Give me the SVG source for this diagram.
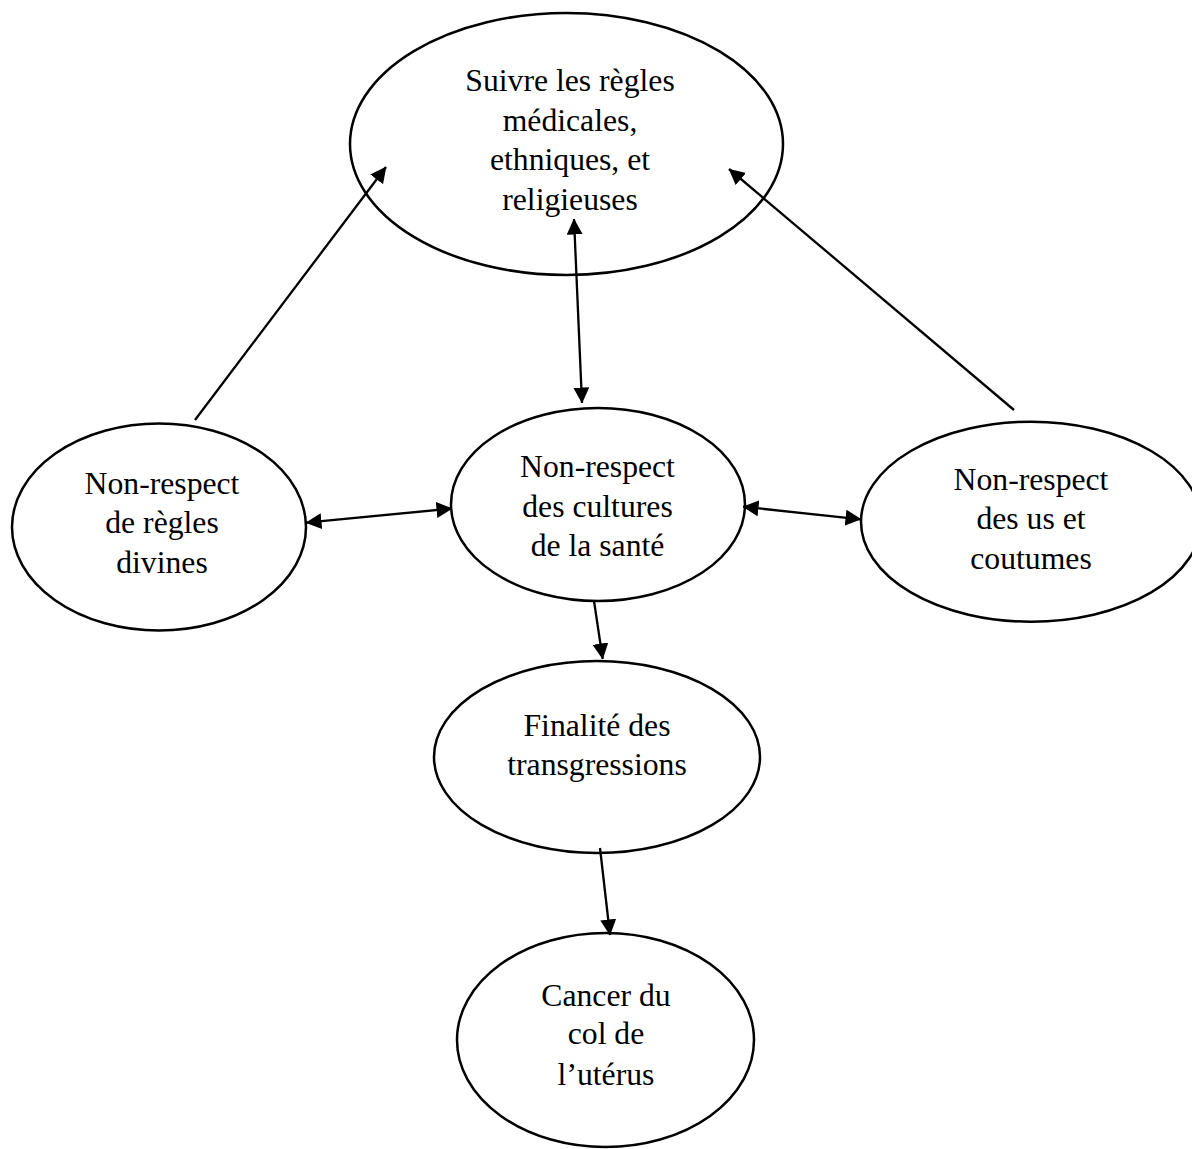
<svg xmlns="http://www.w3.org/2000/svg" width="1192" height="1149" viewBox="0 0 1192 1149">
  <style>
    .node ellipse { fill: #ffffff; stroke: #000000; stroke-width: 2.5; }
    .node text { font-family: "Liberation Serif", "Times New Roman", serif; font-size: 31.7px; fill: #000000; text-anchor: middle; }
    .link { stroke: #000000; stroke-width: 2.3; fill: none; marker-end: url(#head); }
    .both { marker-start: url(#head); }
  </style>
  <defs>
    <marker id="head" viewBox="0 0 16 16" refX="15.5" refY="8" markerWidth="16" markerHeight="16" markerUnits="userSpaceOnUse" orient="auto-start-reverse">
      <path d="M0,0 L16,8 L0,16 Z" fill="#000000"/>
    </marker>
  </defs>
  <rect width="1192" height="1149" fill="#ffffff"/>

  <g id="n-regles" class="node">
    <ellipse cx="566.5" cy="144" rx="216.5" ry="131"/>
    <text x="570" y="91">Suivre les règles</text>
    <text x="570" y="131">médicales,</text>
    <text x="570" y="170">ethniques, et</text>
    <text x="570" y="210">religieuses</text>
  </g>

  <g id="n-divines" class="node">
    <ellipse cx="159" cy="527" rx="147" ry="103.5"/>
    <text x="162" y="494">Non-respect</text>
    <text x="162" y="533">de règles</text>
    <text x="162" y="573">divines</text>
  </g>

  <g id="n-cultures" class="node">
    <ellipse cx="598" cy="504.5" rx="147" ry="96.5"/>
    <text x="597.5" y="477">Non-respect</text>
    <text x="597.5" y="517">des cultures</text>
    <text x="597.5" y="556">de la santé</text>
  </g>

  <g id="n-coutumes" class="node">
    <ellipse cx="1031" cy="521.7" rx="170" ry="100"/>
    <text x="1031" y="490">Non-respect</text>
    <text x="1031" y="529">des us et</text>
    <text x="1031" y="569">coutumes</text>
  </g>

  <g id="n-finalite" class="node">
    <ellipse cx="597" cy="757" rx="163" ry="96"/>
    <text x="597" y="736">Finalité des</text>
    <text x="597" y="775">transgressions</text>
  </g>

  <g id="n-cancer" class="node">
    <ellipse cx="605.5" cy="1040" rx="148.5" ry="107"/>
    <text x="606" y="1006">Cancer du</text>
    <text x="606" y="1044">col de</text>
    <text x="606" y="1085">l’utérus</text>
  </g>

  <g id="connectors">
    <line class="link" x1="195" y1="420" x2="386" y2="167"/>
    <line class="link" x1="1014" y1="410" x2="729" y2="169"/>
    <line class="link both" x1="582" y1="403" x2="574" y2="219"/>
    <line class="link both" x1="306" y1="522.7" x2="452" y2="508.5"/>
    <line class="link both" x1="743" y1="506.7" x2="861" y2="519.3"/>
    <line class="link" x1="594" y1="601" x2="602.7" y2="659"/>
    <line class="link" x1="600" y1="848" x2="610" y2="935"/>
  </g>
</svg>
